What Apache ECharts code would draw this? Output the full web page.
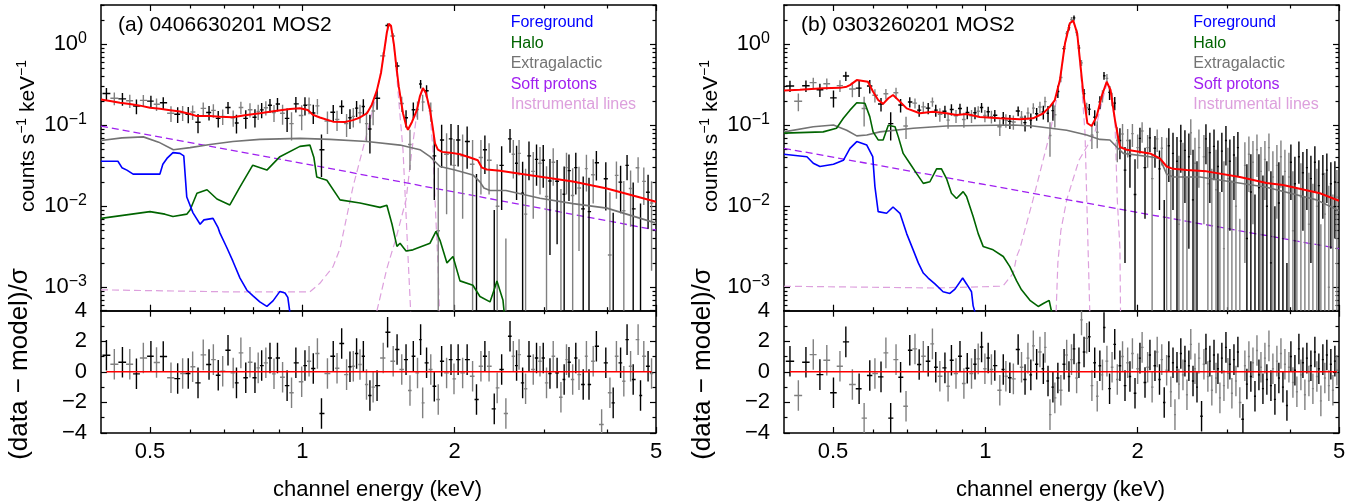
<!DOCTYPE html>
<html><head><meta charset="utf-8">
<script src="https://cdn.jsdelivr.net/npm/echarts@6/dist/echarts.min.js"></script>
<style>html,body{margin:0;padding:0;background:#fff}#c{width:1364px;height:504px}</style>
</head><body><div id="c"></div>
<script>
// ---------------- axis ranges & ticks ----------------
const X_RANGE = [0.4, 5];
const Y_RANGE = [5.14e-4, 3.06];
const RES_RANGE = [-4, 4];
const xMajorTicks = [0.5, 1, 2, 5];
const xTickLabels = ['0.5', '1', '2', '5'];
const xMinorTicks = [0.6, 0.7, 0.8, 0.9, 3, 4];
const yMajorTicks = [0.001, 0.01, 0.1, 1];
const yTickExponents = ['\u22123', '\u22122', '\u22121', '0'];
const yMinorTicks = [6e-4,7e-4,8e-4,9e-4,2e-3,3e-3,4e-3,5e-3,6e-3,7e-3,8e-3,9e-3,0.02,0.03,0.04,0.05,0.06,0.07,0.08,0.09,0.2,0.3,0.4,0.5,0.6,0.7,0.8,0.9,2,3];
const resMajorTicks = [-4, -2, 0, 2, 4];
const resTickLabels = ['\u22124', '\u22122', '0', '2', '4'];
const resMinorTicks = [-3, -1, 1, 3];

// ---------------- panel (a) 0406630201 MOS2 : data ----------------
const aE = [0.410,0.425,0.441,0.456,0.470,0.485,0.502,0.515,0.531,0.550,
0.567,0.580,0.595,0.607,0.622,0.637,0.654,0.667,0.682,0.696,
0.713,0.730,0.741,0.756,0.773,0.788,0.806,0.818,0.831,0.847,
0.863,0.879,0.893,0.914,0.933,0.952,0.971,0.997,1.012,1.031,
1.051,1.071,1.091,1.121,1.151,1.171,1.196,1.223,1.242,1.261,
1.280,1.300,1.320,1.339,1.360,1.380,1.405,1.445,1.474,1.512,
1.539,1.572,1.603,1.632,1.657,1.689,1.713,1.729,1.760,1.794,
1.823,1.856,1.885,1.928,1.967,1.994,2.032,2.074,2.117,2.170,
2.209,2.254,2.295,2.339,2.395,2.427,2.477,2.525,2.573,2.612,
2.651,2.681,2.725,2.762,2.805,2.860,2.903,2.949,2.993,3.038,
3.086,3.132,3.188,3.244,3.292,3.327,3.365,3.422,3.471,3.522,
3.590,3.643,3.686,3.757,3.812,3.904,3.979,4.054,4.115,4.176,
4.256,4.319,4.383,4.454,4.507,4.609,4.660,4.730,4.823,4.900];
const aC = [0.247,0.216,0.212,0.201,0.173,0.203,0.199,0.182,0.190,0.141,
0.137,0.143,0.137,0.146,0.109,0.162,0.144,0.153,0.122,0.129,
0.166,0.124,0.107,0.166,0.122,0.156,0.126,0.148,0.155,0.165,
0.177,0.144,0.183,0.141,0.122,0.105,0.184,0.132,0.177,0.179,
0.142,0.174,0.050,0.113,0.145,0.118,0.171,0.105,0.124,0.129,
0.163,0.143,0.171,0.105,0.090,0.150,0.216,0.720,1.71,1.27,
0.54,0.186,0.124,0.058,0.156,0.157,0.324,0.194,0.267,0.151,
0.042,0.005,0.066,0.044,0.068,0.032,0.066,0.042,0.063,0.033,
-0.005,0.040,0.050,0.037,-0.014,0.010,0.032,-0.018,0.068,0.044,
0.034,0.045,0.0145,0.008,0.042,0.027,0.038,0.034,0.037,0.0132,
0.0205,0.035,0.0204,-0.0006,0.0141,0.030,0.0276,0.0136,0.030,0.0168,
0.0093,0.0292,0.0086,0.0245,0.0345,-0.018,0.0219,0.0025,-0.0041,0.0241,
0.0199,0.0088,0.032,0.0166,0.0093,0.0299,0.0004,0.0203,0.0149,0.011];
const aS = [0.041,0.039,0.038,0.037,0.036,0.034,0.033,0.032,0.032,0.031,
0.030,0.030,0.031,0.030,0.029,0.029,0.029,0.029,0.028,0.028,
0.028,0.028,0.028,0.029,0.031,0.031,0.032,0.032,0.033,0.033,
0.034,0.034,0.035,0.039,0.039,0.040,0.040,0.045,0.045,0.042,
0.038,0.038,0.027,0.035,0.033,0.033,0.033,0.033,0.034,0.035,
0.036,0.037,0.039,0.042,0.045,0.050,0.060,0.080,0.10,0.10,
0.06,0.040,0.030,0.030,0.035,0.040,0.040,0.045,0.045,0.040,
0.030,0.025,0.036,0.036,0.036,0.036,0.035,0.035,0.034,0.033,
0.030,0.026,0.025,0.023,0.023,0.023,0.023,0.022,0.022,0.022,
0.022,0.021,0.021,0.021,0.021,0.020,0.020,0.020,0.020,0.018,
0.018,0.017,0.017,0.017,0.017,0.016,0.016,0.016,0.016,0.014,
0.014,0.014,0.014,0.0137,0.0137,0.013,0.013,0.0124,0.0124,0.0117,
0.0117,0.0117,0.011,0.011,0.0104,0.0104,0.0104,0.0099,0.0096,0.0094];
const aR = [1.09,0.50,0.63,0.50,-0.13,0.91,1.02,0.61,1.00,-0.39,
-0.44,-0.11,-0.11,0.33,-0.72,1.11,0.48,0.80,-0.22,0.04,
1.41,-0.07,-0.72,1.24,-0.39,0.63,-0.39,0.26,0.41,0.59,
0.91,-0.13,0.91,-0.35,-0.90,-1.37,0.59,-0.65,0.41,0.69,
0.22,1.20,-2.72,-0.11,1.02,0.24,1.85,-0.18,0.33,0.37,
1.20,0.48,1.02,-0.83,-1.55,-1.00,-0.90,0.91,2.59,0.69,
1.46,0.15,0.80,-1.22,1.02,-0.07,2.11,-2.03,0.59,0.15,
-0.94,-1.81,0.69,-0.07,0.80,-0.46,0.80,-0.07,0.80,-0.29,
-1.81,0.37,1.02,0.37,-2.42,-1.05,0.15,-2.72,2.33,1.02,
0.41,1.13,-0.72,-1.11,1.02,0.15,0.91,0.69,0.91,-0.72,
-0.11,1.02,-0.07,-1.66,-0.50,0.80,0.63,-0.50,0.91,-0.18,
-0.83,1.02,-0.83,0.69,1.67,-3.44,0.59,-1.37,-2.03,1.02,
0.59,-0.61,2.11,0.37,-0.50,2.11,-1.55,1.02,0.37,-0.11];

// panel (a) model components
const aTotalE = [0.400,0.417,0.436,0.456,0.478,0.500,0.523,0.548,0.573,0.600,0.619,0.657,0.687,0.729,0.770,0.824,0.883,0.945,0.989,1.025,1.049,1.083,1.150,1.214,1.259,1.300,1.342,1.372,1.404,1.431,1.450,1.469,1.482,1.497,1.517,1.531,1.551,1.581,1.603,1.617,1.647,1.684,1.708,1.731,1.755,1.788,1.812,1.829,1.853,1.888,1.958,2.049,2.144,2.222,2.264,2.316,2.458,2.778,3.426,3.998,5.000];
const aTotalV = [0.209,0.200,0.190,0.183,0.175,0.165,0.160,0.154,0.148,0.138,0.130,0.130,0.128,0.126,0.133,0.141,0.150,0.159,0.162,0.155,0.135,0.125,0.111,0.110,0.116,0.125,0.141,0.18,0.27,0.45,0.8,1.4,1.8,1.7,1.0,0.59,0.3,0.141,0.10,0.088,0.11,0.154,0.23,0.288,0.25,0.154,0.09,0.06,0.05,0.047,0.046,0.044,0.040,0.037,0.030,0.0285,0.0275,0.0245,0.0202,0.0166,0.0114];
const aFgE = [0.400,0.432,0.440,0.450,0.463,0.523,0.530,0.540,0.555,0.573,0.583,0.591,0.608,0.628,0.639,0.666,0.681,0.687,0.709,0.729,0.753,0.777,0.798,0.824,0.851,0.875,0.903,0.924,0.936,0.949];
const aFgV = [0.036,0.036,0.030,0.028,0.025,0.025,0.033,0.039,0.046,0.045,0.042,0.013,0.0083,0.006,0.0068,0.0071,0.0055,0.0047,0.0031,0.0021,0.0013,0.00092,0.00079,0.00066,0.00058,0.00068,0.00089,0.00085,0.00075,0.0004];
const aHaloE = [0.400,0.500,0.535,0.555,0.591,0.600,0.619,0.648,0.678,0.719,0.753,0.798,0.851,0.903,0.989,1.035,1.054,1.068,1.118,1.187,1.300,1.424,1.469,1.504,1.538,1.560,1.603,1.654,1.788,1.837,1.871,1.931,1.985,2.049,2.173,2.244,2.349,2.403,2.424,2.492,2.525];
const aHaloV = [0.0071,0.0086,0.0080,0.0075,0.0080,0.0090,0.0145,0.016,0.0123,0.0104,0.0174,0.0322,0.028,0.041,0.055,0.057,0.040,0.023,0.021,0.012,0.011,0.0097,0.0103,0.006,0.0032,0.0035,0.0028,0.0029,0.0035,0.0049,0.0038,0.0020,0.0024,0.0012,0.00106,0.00077,0.00066,0.0010,0.0012,0.00069,0.0003];
const aExtE = [0.400,0.440,0.485,0.520,0.556,0.600,0.657,0.729,0.824,0.989,1.134,1.342,1.560,1.708,1.788,1.871,2.003,2.173,2.244,2.285,2.349,2.525,2.949,3.426,3.998,5.000];
const aExtV = [0.065,0.070,0.072,0.062,0.050,0.053,0.058,0.063,0.067,0.069,0.067,0.063,0.057,0.050,0.041,0.031,0.028,0.0244,0.020,0.0168,0.0157,0.0157,0.0126,0.0108,0.0095,0.0062];
const aSpE = [0.4, 1.0, 2.0, 5.0];
const aSpV = [0.098, 0.034, 0.0150, 0.0051];
const aAlE = [0.400,0.700,1.035,1.083,1.150,1.187,1.259,1.342,1.404,1.450,1.469,1.482,1.497,1.517,1.531,1.551,1.581,1.603,1.617,1.640];
const aAlV = [0.00093,0.00088,0.00088,0.00112,0.0018,0.003,0.0173,0.08,0.25,0.75,1.35,1.78,1.65,0.95,0.55,0.2,0.05,0.008,0.0025,0.0004];
const aSiE = [1.404,1.469,1.531,1.603,1.647,1.684,1.708,1.731,1.755,1.788,1.812,1.829,1.853,1.866];
const aSiV = [0.00051,0.0017,0.004,0.012,0.05,0.14,0.22,0.285,0.24,0.14,0.05,0.012,0.002,0.0005];

// ---------------- panel (b) 0303260201 MOS2 : data ----------------
const bE = [0.411,0.427,0.442,0.457,0.471,0.486,0.501,0.516,0.530,0.546,
0.563,0.576,0.591,0.605,0.622,0.636,0.650,0.666,0.680,0.697,
0.709,0.726,0.740,0.754,0.771,0.786,0.798,0.813,0.832,0.844,
0.857,0.875,0.891,0.907,0.921,0.939,0.954,0.968,0.983,0.998,
1.013,1.028,1.044,1.068,1.085,1.098,1.118,1.136,1.161,1.179,
1.198,1.214,1.230,1.244,1.263,1.282,1.302,1.312,1.330,1.342,
1.360,1.372,1.391,1.410,1.431,1.448,1.463,1.480,1.497,1.515,
1.531,1.549,1.567,1.586,1.605,1.624,1.645,1.664,1.684,1.704,
1.716,1.739,1.760,1.780,1.802,1.823,1.845,1.867,1.888,1.911,
1.931,1.953,1.976,2.000,2.021,2.041,2.068,2.093,2.115,2.136,
2.164,2.186,2.209,2.232,2.257,2.282,2.305,2.326,2.349,2.370,
2.392,2.413,2.434,2.458,2.480,2.503,2.525,2.547,2.573,2.596,
2.620,2.643,2.675,2.704,2.729,2.753,2.778,2.803,2.831,2.857,
2.882,2.908,2.934,2.962,2.989,3.016,3.043,3.071,3.100,3.128,
3.156,3.184,3.229,3.258,3.288,3.318,3.348,3.380,3.411,3.442,
3.473,3.505,3.537,3.569,3.601,3.635,3.668,3.701,3.735,3.769,
3.803,3.839,3.874,3.909,3.945,3.981,4.017,4.054,4.091,4.128,
4.166,4.204,4.243,4.281,4.320,4.360,4.400,4.440,4.480,4.521,
4.562,4.604,4.646,4.688,4.731,4.774,4.818,4.863,4.907,4.952];
const bC = [0.306,0.198,0.308,0.337,0.275,0.326,0.218,0.309,0.406,0.281,
0.288,0.161,0.306,0.235,0.183,0.245,0.105,0.252,0.178,0.098,
0.194,0.188,0.154,0.169,0.163,0.195,0.154,0.137,0.149,0.116,
0.157,0.131,0.161,0.118,0.144,0.131,0.143,0.149,0.166,0.132,
0.147,0.128,0.133,0.096,0.124,0.115,0.112,0.110,0.150,0.126,
0.108,0.142,0.116,0.163,0.139,0.168,0.146,0.196,0.141,0.075,
0.152,0.135,0.262,0.39,0.885,1.36,1.61,2.02,2.12,1.40,
0.90,0.59,0.246,0.165,0.158,0.076,0.126,0.082,0.194,0.232,
0.41,0.38,0.255,0.212,0.188,0.065,0.065,0.078,0.028,0.065,
0.042,0.079,0.014,0.053,0.069,0.085,0.030,0.053,0.070,0.022,
0.052,0.068,0.029,0.052,-0.008,0.032,0.056,-0.008,0.045,-0.050,
0.036,0.006,0.064,0.023,0.049,-0.015,0.041,0.081,0.012,0.034,
0.000,0.053,-0.053,0.041,0.068,0.019,0.046,-0.005,0.055,0.016,
0.031,-0.018,0.048,0.003,0.065,0.022,0.036,-0.010,0.043,0.010,
0.053,-0.023,-0.048,0.032,0.004,0.044,0.015,0.035,-0.013,0.050,
0.017,0.027,-0.002,0.038,0.010,0.053,0.002,0.023,-0.015,0.032,
0.011,0.041,0.000,0.027,-0.021,0.023,0.035,0.005,0.019,-0.005,
0.041,0.013,0.026,-0.008,0.030,0.006,0.022,-0.001,0.035,0.010,
0.018,-0.013,0.025,0.008,0.028,0.001,0.019,-0.002,0.020,0.013];
const bS = [0.049,0.049,0.050,0.050,0.051,0.052,0.052,0.052,0.054,0.059,
0.065,0.064,0.058,0.043,0.035,0.036,0.040,0.040,0.034,0.030,
0.028,0.027,0.026,0.026,0.026,0.026,0.026,0.026,0.026,0.025,
0.025,0.024,0.024,0.025,0.025,0.024,0.024,0.023,0.023,0.023,
0.023,0.023,0.022,0.022,0.022,0.022,0.022,0.022,0.021,0.024,
0.024,0.024,0.024,0.024,0.025,0.027,0.028,0.030,0.032,0.034,
0.038,0.041,0.045,0.05,0.07,0.10,0.13,0.15,0.15,0.12,
0.08,0.05,0.035,0.025,0.025,0.025,0.027,0.030,0.035,0.040,
0.045,0.05,0.05,0.04,0.035,0.030,0.027,0.026,0.026,0.025,
0.025,0.025,0.024,0.024,0.024,0.024,0.023,0.023,0.023,0.022,
0.022,0.021,0.020,0.020,0.020,0.038,0.036,0.036,0.036,0.036,
0.036,0.036,0.038,0.038,0.038,0.038,0.038,0.038,0.038,0.036,
0.036,0.036,0.036,0.035,0.035,0.035,0.035,0.034,0.034,0.034,
0.034,0.033,0.033,0.033,0.033,0.031,0.031,0.031,0.031,0.031,
0.030,0.030,0.030,0.030,0.029,0.029,0.029,0.029,0.027,0.027,
0.027,0.027,0.026,0.026,0.026,0.026,0.025,0.025,0.025,0.025,
0.024,0.024,0.024,0.023,0.023,0.023,0.023,0.022,0.022,0.022,
0.022,0.021,0.021,0.021,0.021,0.020,0.020,0.020,0.020,0.019,
0.019,0.019,0.018,0.018,0.017,0.017,0.016,0.016,0.016,0.015];
const bR = [0.69,-1.55,0.63,1.13,-0.18,0.76,-1.37,0.37,1.96,-0.83,
-1.11,-3.03,-0.24,-0.11,-0.33,1.24,-3.03,0.80,-0.35,-2.25,
1.41,1.50,0.48,1.02,0.69,1.83,0.30,-0.29,0.26,-0.94,
0.76,-0.11,1.02,-0.76,0.24,-0.11,0.50,0.85,1.63,0.20,
0.91,0.15,0.41,-1.20,0.15,-0.29,-0.39,-0.46,1.46,0.30,
-0.50,0.90,-0.20,1.70,0.50,1.30,0.20,1.60,-0.60,-2.80,
-1.00,-1.70,-0.40,-1.20,0.50,1.10,-0.30,0.80,1.50,-0.40,
0.60,3.40,1.30,2.20,2.30,-0.90,0.60,-1.60,0.40,-0.20,
2.90,0.70,-1.10,0.30,1.80,-0.50,0.40,1.00,-0.90,0.60,
-0.30,1.20,-1.40,0.20,0.90,1.60,-0.70,0.30,1.10,-1.00,
0.40,1.30,-0.50,0.80,-2.00,0.10,1.00,-1.30,0.60,-2.80,
0.30,-0.80,1.20,-0.20,0.70,-1.50,0.40,1.80,-0.60,0.20,
-1.00,0.90,-2.90,0.50,1.50,-0.30,0.70,-1.20,1.10,-0.40,
0.20,-1.70,0.90,-0.90,1.60,-0.10,0.50,-1.40,0.80,-0.60,
1.30,-2.00,-3.10,0.40,-0.80,1.00,-0.30,0.60,-1.60,1.40,
-0.20,0.30,-1.10,0.90,-0.50,1.70,-0.90,0.20,-1.80,0.70,
-0.40,1.20,-1.00,0.50,-2.20,0.30,1.00,-0.70,0.10,-1.30,
1.50,-0.20,0.60,-1.50,0.90,-0.60,0.40,-1.10,1.30,-0.30,
0.20,-1.90,0.80,-0.40,1.10,-0.90,0.50,-1.20,0.70,0.10];

// panel (b) model components
const bTotalE = [0.400,0.430,0.478,0.516,0.532,0.540,0.557,0.586,0.600,0.614,0.628,0.643,0.657,0.678,0.699,0.742,0.788,0.838,0.877,0.918,0.975,1.068,1.170,1.242,1.300,1.342,1.372,1.404,1.437,1.469,1.492,1.519,1.538,1.562,1.591,1.622,1.659,1.697,1.737,1.768,1.804,1.845,1.902,2.115,2.213,2.282,2.349,2.499,2.737,3.184,3.596,3.874,4.583,5.000];
const bTotalV = [0.27,0.275,0.286,0.29,0.30,0.314,0.362,0.345,0.26,0.205,0.184,0.216,0.237,0.196,0.162,0.141,0.147,0.141,0.134,0.138,0.127,0.122,0.119,0.122,0.14,0.17,0.205,0.362,1.03,1.82,1.96,1.37,0.64,0.248,0.106,0.098,0.128,0.226,0.345,0.273,0.116,0.054,0.05,0.045,0.039,0.031,0.029,0.028,0.027,0.023,0.0194,0.0183,0.0145,0.0117];
const bFgE = [0.400,0.444,0.457,0.471,0.501,0.524,0.540,0.557,0.583,0.599,0.605,0.614,0.638,0.657,0.678,0.699,0.720,0.737,0.754,0.771,0.795,0.825,0.851,0.871,0.902,0.918,0.939,0.946,0.958];
const bFgV = [0.044,0.041,0.034,0.031,0.033,0.037,0.052,0.063,0.057,0.041,0.0175,0.0086,0.0082,0.0098,0.0082,0.0046,0.0029,0.002,0.0015,0.0013,0.0011,0.00088,0.00084,0.00095,0.0013,0.0011,0.00088,0.00059,0.00045];
const bHaloE = [0.400,0.478,0.508,0.524,0.540,0.557,0.578,0.591,0.600,0.614,0.628,0.643,0.663,0.673,0.688,0.709,0.731,0.754,0.777,0.801,0.819,0.838,0.857,0.877,0.904,0.918,0.946,0.968,0.990,1.036,1.085,1.118,1.153,1.179,1.225,1.272,1.302,1.337,1.362];
const bHaloV = [0.080,0.083,0.092,0.122,0.154,0.19,0.187,0.128,0.083,0.066,0.066,0.10,0.096,0.072,0.045,0.034,0.0255,0.0192,0.0201,0.029,0.029,0.022,0.0145,0.0125,0.0152,0.0132,0.0075,0.0046,0.0032,0.0029,0.0024,0.0018,0.0012,0.00093,0.00069,0.00058,0.00063,0.00069,0.0004];
const bExtE = [0.400,0.457,0.501,0.532,0.557,0.583,0.619,0.720,0.838,1.134,1.242,1.448,1.586,1.684,1.763,1.818,1.874,2.115,2.213,2.282,2.349,2.656,3.596,4.515,5.000];
const bExtV = [0.083,0.096,0.101,0.087,0.074,0.076,0.083,0.092,0.098,0.101,0.098,0.087,0.076,0.067,0.066,0.054,0.045,0.041,0.039,0.025,0.023,0.023,0.0172,0.012,0.0088];
const bSpE = [0.4, 1.0, 2.0, 5.0];
const bSpV = [0.052, 0.0185, 0.0084, 0.003];
const bAlE = [0.400,0.800,1.068,1.085,1.136,1.153,1.170,1.242,1.342,1.404,1.437,1.469,1.492,1.519,1.538,1.574,1.596,1.610];
const bAlV = [0.00103,0.00098,0.00103,0.00105,0.0015,0.0024,0.003,0.012,0.08,0.34,1.0,1.8,1.94,1.35,0.62,0.08,0.003,0.0004];
const bSiE = [1.380,1.391,1.410,1.448,1.531,1.645,1.684,1.739,1.768,1.804,1.823,1.845,1.850];
const bSiV = [0.0005,0.002,0.005,0.012,0.037,0.08,0.154,0.33,0.26,0.106,0.012,0.003,0.0005];

const componentNames = ['Foreground', 'Halo', 'Extragalactic', 'Soft protons', 'Instrumental lines'];
const panelTitles = ['(a) 0406630201 MOS2', '(b) 0303260201 MOS2'];

// ---------------- layout & style ----------------
const FONT = '"Liberation Sans", Arial, Helvetica, sans-serif';
const COLORS = {total:'#ff0000', fg:'#0000ff', halo:'#006400', ext:'#737373', sp:'#a020f0', inst:'#dda0dd'};
const PANEL_LEFT = [101, 784];
const PLOT_W = 555, TOP_Y = 5, MID_Y = 310.7, BOT_Y = 433;

const L = Math.log10;
function nearest(arr, v) {
  let bi = 0, bd = Infinity;
  arr.forEach((t, i) => { const d = Math.abs(L(t) - v); if (d < bd) { bd = d; bi = i; } });
  return bi;
}
function nearestLin(arr, v) {
  let bi = 0, bd = Infinity;
  arr.forEach((t, i) => { const d = Math.abs(t - v); if (d < bd) { bd = d; bi = i; } });
  return bi;
}

// grids: 0 a-top, 1 a-res, 2 b-top, 3 b-res, 4..7 minor-tick overlays
const grids = [];
for (let k = 0; k < 2; k++) {
  for (let p = 0; p < 2; p++) {
    grids.push({left: PANEL_LEFT[p], top: TOP_Y, width: PLOT_W, height: MID_Y - TOP_Y});
    grids.push({left: PANEL_LEFT[p], top: MID_Y, width: PLOT_W, height: BOT_Y - MID_Y});
  }
}
grids.forEach(g => { g.containLabel = false; g.outerBoundsMode = 'none'; });

const xAxes = [], yAxes = [];
for (let gi = 0; gi < 8; gi++) {
  const minor = gi >= 4;
  const isRes = gi % 2 === 1;
  const xv = (minor ? xMinorTicks : xMajorTicks).map(L);
  const xc = {
    type: 'value', gridIndex: gi, min: L(X_RANGE[0]), max: L(X_RANGE[1]),
    splitLine: {show: false},
    axisLine: {show: !minor, onZero: false, lineStyle: {color: '#000', width: 1.5}},
    axisTick: {show: true, inside: true, length: minor ? 3.5 : 6, customValues: xv, lineStyle: {color: '#000', width: 1.2}}
  };
  xAxes.push(Object.assign({}, xc, {position: 'bottom',
    axisLabel: (isRes && !minor) ? {show: true, customValues: xv, margin: 8, color: '#000', fontSize: 22, fontFamily: FONT,
      formatter: v => xTickLabels[nearest(xMajorTicks, v)]} : {show: false}}));
  xAxes.push(Object.assign({}, xc, {position: 'top', axisLabel: {show: false}}));
  let yv, ymin, ymax, lbl;
  if (isRes) {
    yv = minor ? resMinorTicks : resMajorTicks; ymin = RES_RANGE[0]; ymax = RES_RANGE[1];
    lbl = minor ? {show: false} : {show: true, customValues: yv, margin: 14, color: '#000', fontSize: 22, fontFamily: FONT,
      formatter: v => resTickLabels[nearestLin(resMajorTicks, v)]};
  } else {
    yv = (minor ? yMinorTicks : yMajorTicks).map(L); ymin = L(Y_RANGE[0]); ymax = L(Y_RANGE[1]);
    lbl = minor ? {show: false} : {show: true, customValues: yv, margin: 14, color: '#000', fontFamily: FONT,
      formatter: v => '{b|10}{s|' + yTickExponents[nearest(yMajorTicks, v)] + '}',
      rich: {b: {fontSize: 22, fontFamily: FONT, color: '#000', lineHeight: 28},
             s: {fontSize: 16, fontFamily: FONT, color: '#000', lineHeight: 16, verticalAlign: 'top'}}};
  }
  const yc = {
    type: 'value', gridIndex: gi, min: ymin, max: ymax,
    splitLine: {show: false},
    axisLine: {show: !minor, onZero: false, lineStyle: {color: '#000', width: 1.5}},
    axisTick: {show: true, inside: true, length: minor ? 3.5 : 6, customValues: yv, lineStyle: {color: '#000', width: 1.2}}
  };
  yAxes.push(Object.assign({}, yc, {position: 'left', axisLabel: lbl}));
  yAxes.push(Object.assign({}, yc, {position: 'right', axisLabel: {show: false}}));
}

function curve(gi, name, E, V, color, width, dashed, z) {
  return {
    type: 'line', name, xAxisIndex: 2 * gi, yAxisIndex: 2 * gi, z, silent: true,
    showSymbol: false, symbol: 'none', clip: true, animation: false,
    data: E.map((e, i) => [L(e), L(V[i])]),
    lineStyle: {color, width, type: dashed ? [7, 4] : 'solid'}
  };
}

function errorSeries(gi, E, V, S, logY) {
  const n = E.length;
  const data = E.map((e, i) => {
    const lo = i > 0 ? Math.sqrt(E[i - 1] * e) : e / Math.sqrt(E[1] / E[0]);
    const hi = i < n - 1 ? Math.sqrt(e * E[i + 1]) : e * Math.sqrt(E[n - 1] / E[n - 2]);
    return [L(e), V[i], S ? S[i] : 1, L(lo), L(hi), i % 2];
  });
  return {
    type: 'custom', name: 'data', xAxisIndex: 2 * gi, yAxisIndex: 2 * gi, z: 3, clip: true, silent: true, animation: false,
    data, encode: {x: 0, y: 1},
    renderItem(params, api) {
      const x = api.value(0), v = api.value(1), s = api.value(2), xl = api.value(3), xh = api.value(4);
      const color = api.value(5) ? '#808080' : '#000000';
      let yTop, yBot, yMid;
      if (logY) {
        yTop = L(v + s);
        yBot = v - s > 0 ? L(v - s) : L(Y_RANGE[0]) - 1;
        yMid = v > 0 ? L(v) : null;
      } else { yTop = v + s; yBot = v - s; yMid = v; }
      const a = api.coord([x, yBot]), b = api.coord([x, yTop]);
      const children = [{type: 'line', shape: {x1: a[0], y1: a[1], x2: b[0], y2: b[1]}, style: {stroke: color, lineWidth: 1.4}}];
      if (yMid !== null) {
        const c = api.coord([xl, yMid]), d = api.coord([xh, yMid]);
        children.push({type: 'line', shape: {x1: c[0], y1: c[1], x2: d[0], y2: d[1]}, style: {stroke: color, lineWidth: 1.4}});
      }
      return {type: 'group', children};
    }
  };
}

const panels = [
  {E: aE, C: aC, S: aS, R: aR, tot: [aTotalE, aTotalV], fg: [aFgE, aFgV], halo: [aHaloE, aHaloV], ext: [aExtE, aExtV], sp: [aSpE, aSpV], al: [aAlE, aAlV], si: [aSiE, aSiV]},
  {E: bE, C: bC, S: bS, R: bR, tot: [bTotalE, bTotalV], fg: [bFgE, bFgV], halo: [bHaloE, bHaloV], ext: [bExtE, bExtV], sp: [bSpE, bSpV], al: [bAlE, bAlV], si: [bSiE, bSiV]}
];

const series = [];
panels.forEach((P, p) => {
  const gTop = 2 * p, gRes = 2 * p + 1;
  series.push(curve(gTop, componentNames[4], P.al[0], P.al[1], COLORS.inst, 1.2, true, 1));
  series.push(curve(gTop, componentNames[4], P.si[0], P.si[1], COLORS.inst, 1.2, true, 1));
  series.push(curve(gTop, componentNames[3], P.sp[0], P.sp[1], COLORS.sp, 1.3, true, 2));
  series.push(errorSeries(gTop, P.E, P.C, P.S, true));
  series.push(curve(gTop, componentNames[2], P.ext[0], P.ext[1], COLORS.ext, 1.6, false, 4));
  series.push(curve(gTop, componentNames[1], P.halo[0], P.halo[1], COLORS.halo, 1.6, false, 4));
  series.push(curve(gTop, componentNames[0], P.fg[0], P.fg[1], COLORS.fg, 1.6, false, 4));
  series.push(curve(gTop, 'Total', P.tot[0], P.tot[1], COLORS.total, 2, false, 5));
  series.push(errorSeries(gRes, P.E, P.R, null, false));
  series.push({type: 'line', name: 'zero', xAxisIndex: 2 * gRes, yAxisIndex: 2 * gRes, z: 5, silent: true, showSymbol: false, symbol: 'none',
    data: [[L(P.E[0]), 0], [L(P.E[P.E.length - 1]), 0]], lineStyle: {color: COLORS.total, width: 1.5}});
});

// texts
const graphic = [];
const legendColors = [COLORS.fg, COLORS.halo, COLORS.ext, COLORS.sp, COLORS.inst];
const legendX = [510.7, 1193.3];
const legendY = [22.7, 43.2, 63.7, 84.2, 104.7];
for (let p = 0; p < 2; p++) {
  graphic.push({type: 'text', x: PANEL_LEFT[p] + 17, y: 25, silent: true,
    style: {text: panelTitles[p], fill: '#000', font: '21px ' + FONT, verticalAlign: 'middle', align: 'left'}});
  componentNames.forEach((nm, i) => graphic.push({type: 'text', x: legendX[p], y: legendY[i], silent: true,
    style: {text: nm, fill: legendColors[i], font: '16px ' + FONT, verticalAlign: 'middle', align: 'left'}}));
  graphic.push({type: 'text', x: PANEL_LEFT[p] + 276.5, y: 490, silent: true,
    style: {text: 'channel energy (keV)', fill: '#000', font: '22px ' + FONT, verticalAlign: 'middle', align: 'center'}});
  graphic.push({type: 'text', x: PANEL_LEFT[p] - 73, y: 136, rotation: Math.PI / 2, silent: true,
    style: {text: 'counts s{s|\u22121} keV{s|\u22121}', fill: '#000', font: '21px ' + FONT, lineHeight: 26,
      verticalAlign: 'middle', align: 'center',
      rich: {s: {fontSize: 14, fontFamily: FONT, fill: '#000', lineHeight: 14, verticalAlign: 'top'}}}});
  graphic.push({type: 'text', x: PANEL_LEFT[p] - 81, y: 364, rotation: Math.PI / 2, silent: true,
    style: {text: '(data \u2212 model)/\u03c3', fill: '#000', font: '26px ' + FONT, verticalAlign: 'middle', align: 'center'}});
}

const chart = echarts.init(document.getElementById('c'), null, {renderer: 'canvas', width: 1364, height: 504});
chart.setOption({
  animation: false,
  backgroundColor: '#ffffff',
  grid: grids,
  xAxis: xAxes,
  yAxis: yAxes,
  series,
  graphic
});
</script></body></html>
